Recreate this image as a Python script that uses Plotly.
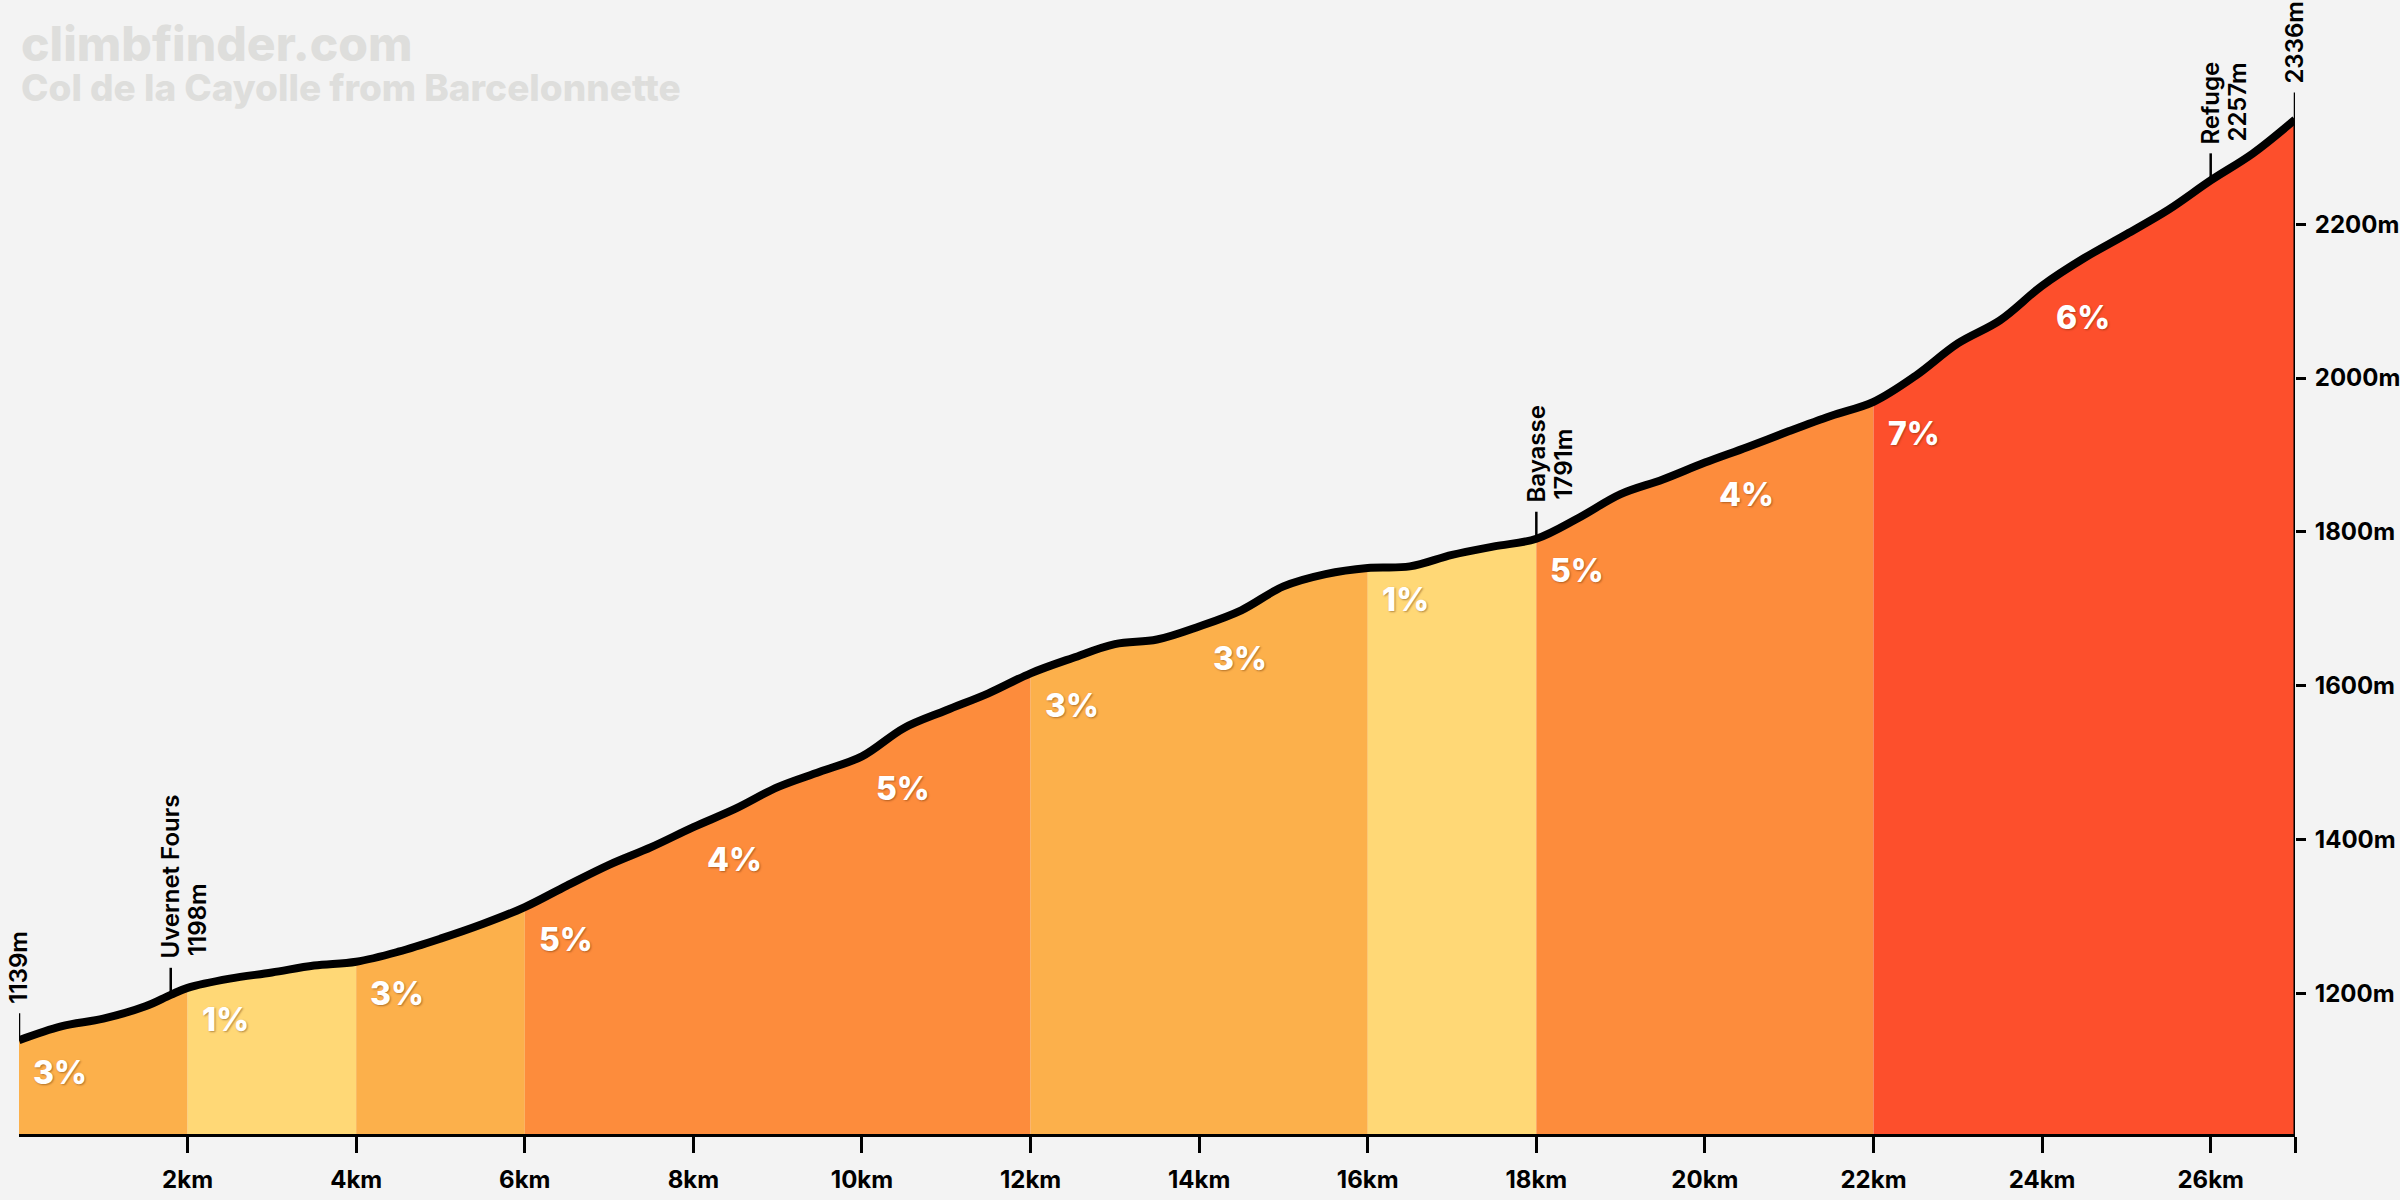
import plotly.graph_objects as go

# ---------------- data ----------------
km = [0.0, 0.5, 1.0, 1.5, 1.8, 2.0, 2.5, 3.0, 3.5, 4.0, 4.5, 5.0, 5.5, 6.0, 6.5, 7.0,
      7.5, 8.0, 8.5, 9.0, 9.5, 10.0, 10.5, 11.0, 11.5, 12.0, 12.5, 13.0, 13.5, 14.0,
      14.5, 15.0, 15.5, 16.0, 16.5, 17.0, 17.5, 18.0, 18.5, 19.0, 19.5, 20.0, 20.5,
      21.0, 21.5, 22.0, 22.5, 23.0, 23.5, 24.0, 24.5, 25.0, 25.5, 26.0, 26.5, 27.0]
elev = [1139, 1157, 1167, 1183, 1198, 1207, 1219, 1227, 1236, 1241, 1254, 1271, 1290, 1312,
        1340, 1367, 1390, 1416, 1440, 1468, 1488, 1508, 1545, 1568, 1590, 1616, 1636, 1654,
        1660, 1677, 1698, 1729, 1745, 1753, 1755, 1770, 1781, 1791, 1818, 1849, 1868, 1890,
        1910, 1931, 1951, 1969, 2003, 2045, 2075, 2120, 2156, 2187, 2219, 2257, 2292, 2336]

seg_start = [0, 2, 4, 6, 8, 10, 12, 14, 16, 18, 20, 22, 24]
seg_end = [2, 4, 6, 8, 10, 12, 14, 16, 18, 20, 22, 24, 27]
seg_grade = [3, 1, 3, 5, 4, 5, 3, 3, 1, 5, 4, 7, 6]

marker_km = [0.0, 1.8, 18.0, 26.0, 27.0]
marker_name = ["", "Uvernet Fours", "Bayasse", "Refuge", ""]
marker_elev = [1139, 1198, 1791, 2257, 2336]

x_ticks = [2, 4, 6, 8, 10, 12, 14, 16, 18, 20, 22, 24, 26]
y_ticks = [1200, 1400, 1600, 1800, 2000, 2200]

title_site = "climbfinder.com"
title_climb = "Col de la Cayolle from Barcelonnette"

# ---------------- style ----------------
BG = "#F3F3F3"
FONT = "Inter"
Y_RANGE = [1017, 2491.5]


def grade_color(g):
    if g <= 2:
        return "#FFD876"
    if g <= 3:
        return "#FCB04B"
    if g <= 5:
        return "#FD8C3C"
    return "#FD4F2C"


fig = go.Figure()

# merge consecutive segments of the same colour into one filled area
groups = []
for s, e, g in zip(seg_start, seg_end, seg_grade):
    c = grade_color(g)
    if groups and groups[-1][2] == c and groups[-1][1] == s:
        groups[-1][1] = e
    else:
        groups.append([s, e, c])

for s, e, c in groups:
    xs = [k for k in km if s <= k <= e]
    ys = [v for k, v in zip(km, elev) if s <= k <= e]
    fig.add_trace(go.Scatter(x=xs, y=ys, mode="lines", fill="tozeroy", fillcolor=c,
                             line=dict(width=0, color=c, shape="spline"),
                             hoverinfo="skip"))

# right edge line (end of climb)
fig.add_trace(go.Scatter(x=[km[-1], km[-1]], y=[Y_RANGE[0], elev[-1]], mode="lines",
                         line=dict(color="black", width=3), hoverinfo="skip"))

# profile line
fig.add_trace(go.Scatter(x=km, y=elev, mode="lines",
                         line=dict(color="black", width=8, shape="spline"),
                         hoverinfo="skip"))

annotations = []
shapes = []

# gradient labels
for s, g in zip(seg_start, seg_grade):
    y0 = elev[km.index(float(s))]
    annotations.append(dict(x=s, y=y0, xref="x", yref="y", text=f"{g}%", showarrow=False,
                            xanchor="left", yanchor="middle", xshift=12, yshift=-32,
                            font=dict(family=FONT, size=32, color="white", weight=800,
                                      shadow="1px 1px 2px rgba(90,40,0,0.45)")))

# point markers
for mk, name, me in zip(marker_km, marker_name, marker_elev):
    shapes.append(dict(type="line", xref="x", yref="y", x0=mk, x1=mk,
                       ysizemode="pixel", yanchor=me, y0=0, y1=27,
                       line=dict(color="black", width=2.5), layer="above"))
    lab_font = dict(family=FONT, size=24, color="black", weight=600)
    if name:
        annotations.append(dict(x=mk, y=me, xref="x", yref="y", text=name, showarrow=False,
                                textangle=-90, xanchor="center", yanchor="bottom", yshift=34,
                                font=lab_font))
        annotations.append(dict(x=mk, y=me, xref="x", yref="y", text=f"{me}m", showarrow=False,
                                textangle=-90, xanchor="center", yanchor="bottom", yshift=37,
                                xshift=27, font=lab_font))
    else:
        annotations.append(dict(x=mk, y=me, xref="x", yref="y", text=f"{me}m", showarrow=False,
                                textangle=-90, xanchor="center", yanchor="bottom", yshift=34,
                                font=lab_font))

# titles (one block, two lines)
annotations.append(dict(x=0, y=1.0, xref="paper", yref="paper",
                        text=(f"<span style='font-size:48px'>{title_site}</span><br>"
                              f"<span style='font-size:37px'>{title_climb}</span>"),
                        showarrow=False, xanchor="left", yanchor="top", align="left",
                        yshift=-12,
                        font=dict(family=FONT, size=31, color="#DEDEDC", weight=800)))

fig.update_layout(
    width=2400, height=1200,
    margin=dict(l=19, r=105, t=0, b=66),
    paper_bgcolor=BG, plot_bgcolor=BG,
    showlegend=False,
    annotations=annotations,
    shapes=shapes,
    xaxis=dict(range=[km[0], km[-1]], tickvals=x_ticks + [km[-1]],
               ticktext=[f"{t}km" for t in x_ticks] + [""],
               ticks="outside", ticklen=16, tickwidth=3, tickcolor="black",
               showline=True, linecolor="black", linewidth=3,
               showgrid=False, zeroline=False, ticklabelstandoff=6,
               tickfont=dict(family=FONT, size=24, color="black", weight=700)),
    yaxis=dict(range=Y_RANGE, side="right", tickvals=y_ticks,
               ticktext=[f"{t}m" for t in y_ticks],
               ticks="outside", ticklen=10, tickwidth=3, tickcolor="black",
               showline=False, showgrid=False, zeroline=False, ticklabelstandoff=4,
               tickfont=dict(family=FONT, size=24, color="black", weight=700)),
)

fig.write_html("out.html")
